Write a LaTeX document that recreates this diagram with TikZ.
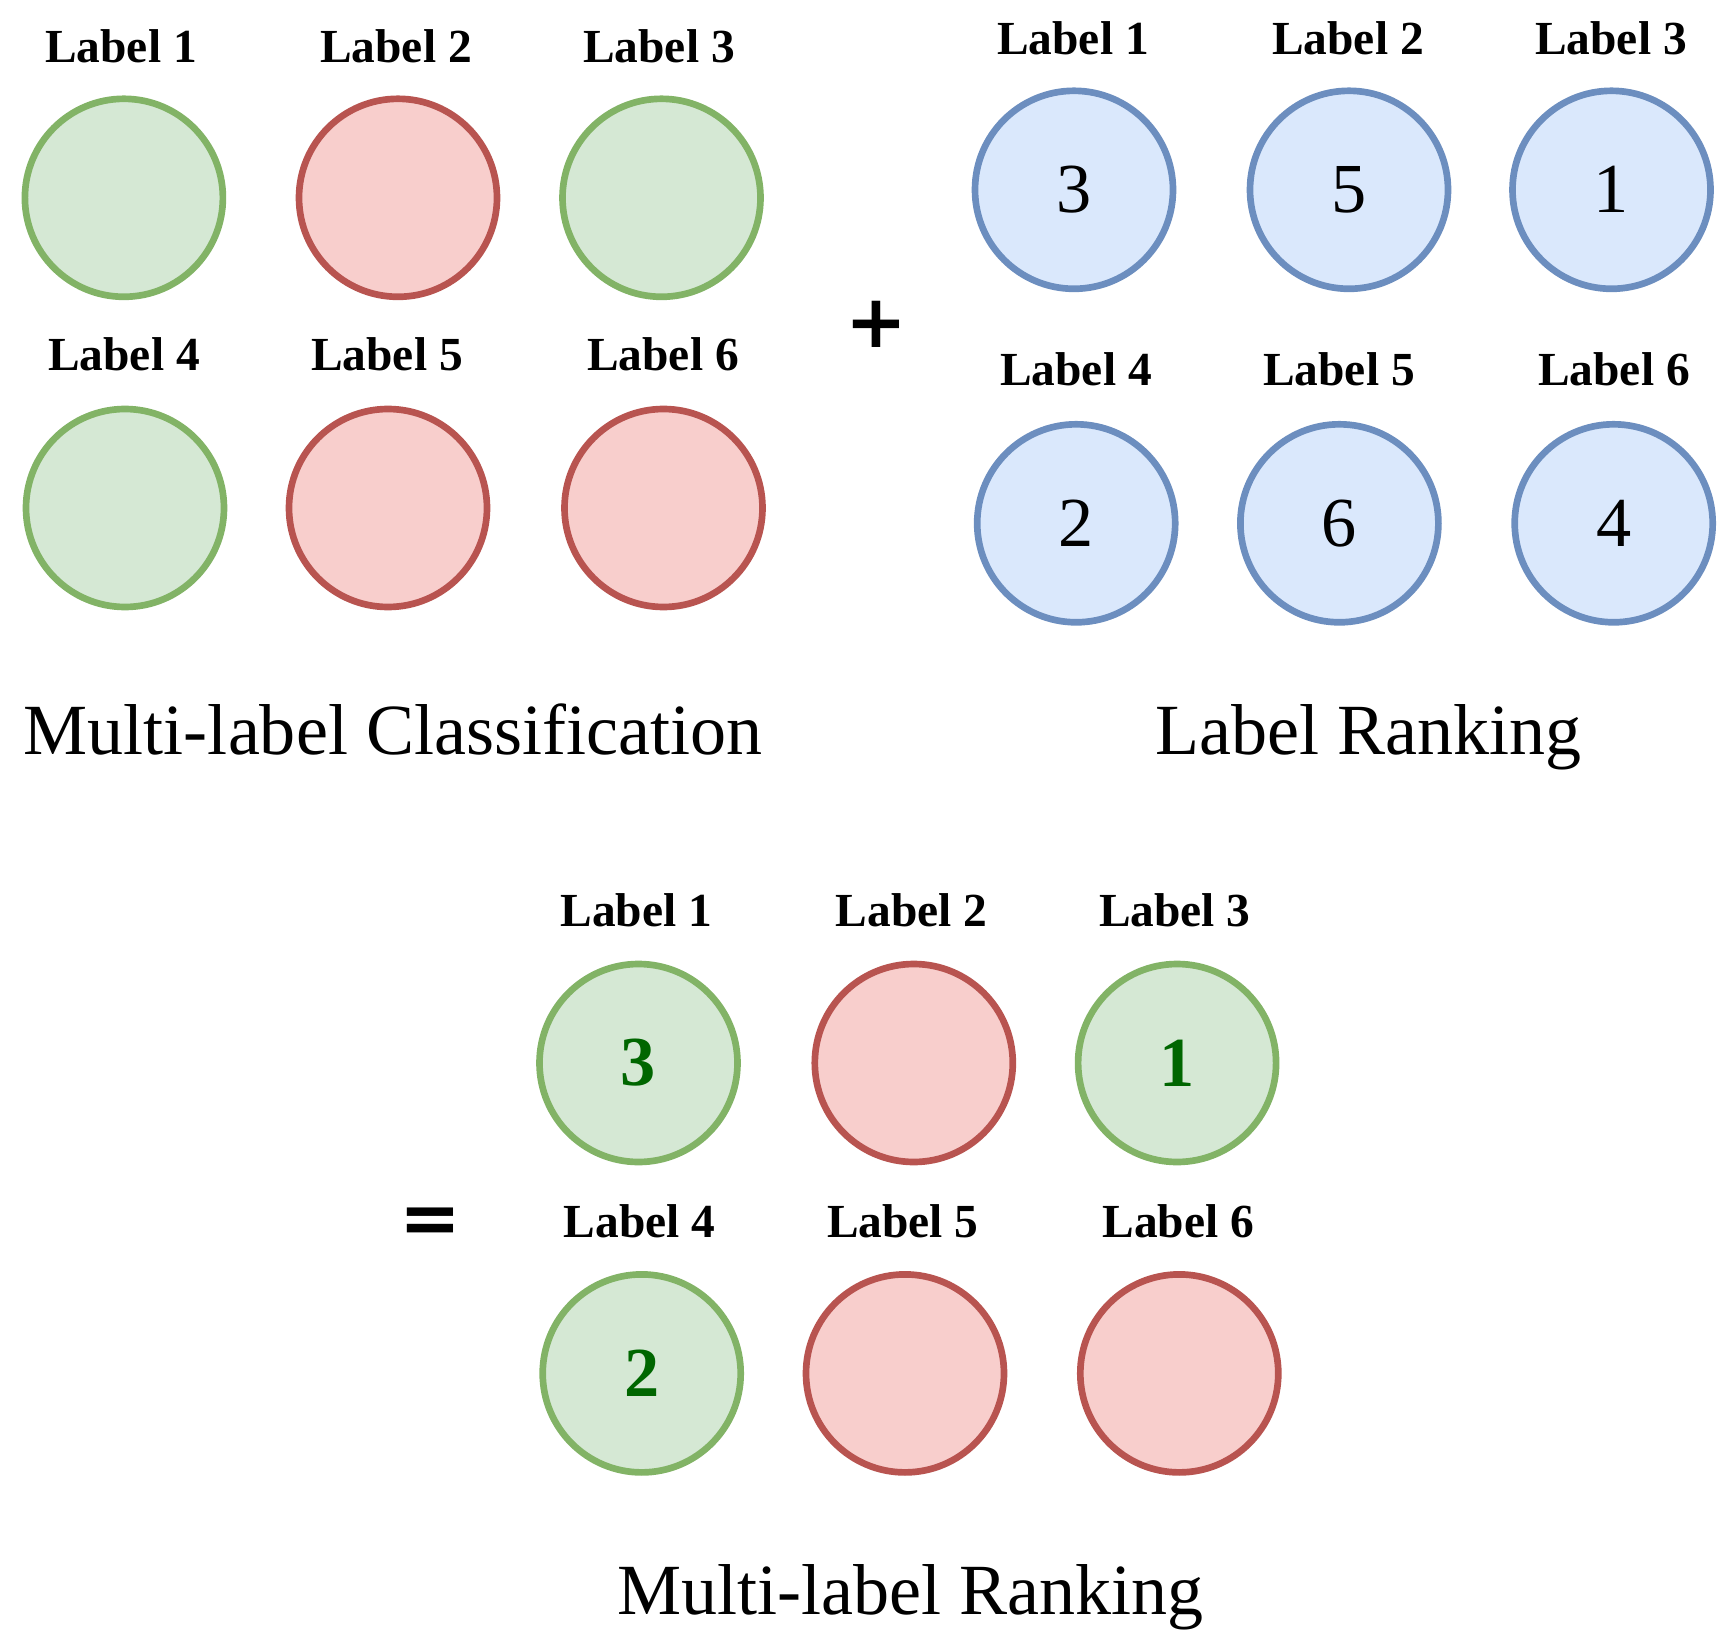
\documentclass[tikz,border=0pt]{standalone}
\usepackage{fontspec}
\setmainfont{Liberation Serif}
\newfontfamily\opfont{DejaVu Sans}
\usetikzlibrary{calc}

\definecolor{relfill}{HTML}{D5E8D4}
\definecolor{relline}{HTML}{82B366}
\definecolor{reltext}{HTML}{006600}
\definecolor{irrfill}{HTML}{F8CECC}
\definecolor{irrline}{HTML}{B85450}
\definecolor{rankfill}{HTML}{DAE8FC}
\definecolor{rankline}{HTML}{6C8EBF}

\begin{document}
\begin{tikzpicture}[
    relevant/.style={circle, draw=relline, fill=relfill, line width=1.9pt,
        minimum size=1.98cm, inner sep=0pt, text=reltext,
        font=\fontsize{20}{20}\selectfont\bfseries},
    irrelevant/.style={circle, draw=irrline, fill=irrfill, line width=1.9pt,
        minimum size=1.98cm, inner sep=0pt},
    ranked/.style={circle, draw=rankline, fill=rankfill, line width=1.9pt,
        minimum size=1.98cm, inner sep=0pt,
        font=\fontsize{20}{20}\selectfont},
    labeltext/.style={font=\fontsize{13.5}{14}\selectfont\bfseries},
    caption/.style={anchor=base, font=\fontsize{20.5}{22}\selectfont},
    operator/.style={inner sep=0pt, font=\opfont\bfseries\fontsize{21}{21}\selectfont}
]
    \useasboundingbox (0, 0) rectangle (17.2, -16.37);

    % Multi-label classification
    \node (mlc_l1) at (1.21, -0.46) [labeltext] {Label 1};
    \node (mlc_l2) at (3.96, -0.46) [labeltext] {Label 2};
    \node (mlc_l3) at (6.59, -0.46) [labeltext] {Label 3};
    \node (mlc_c1) at (1.239, -1.978) [relevant] {};
    \node (mlc_c2) at (3.98, -1.978) [irrelevant] {};
    \node (mlc_c3) at (6.615, -1.978) [relevant] {};

    \node (mlc_l4) at (1.24, -3.54) [labeltext] {Label 4};
    \node (mlc_l5) at (3.87, -3.54) [labeltext] {Label 5};
    \node (mlc_l6) at (6.63, -3.54) [labeltext] {Label 6};
    \node (mlc_c4) at (1.25, -5.08) [relevant] {};
    \node (mlc_c5) at (3.88, -5.08) [irrelevant] {};
    \node (mlc_c6) at (6.635, -5.08) [irrelevant] {};

    \node (mlc_title) at (3.93, -7.547) [caption] {Multi-label Classification};

    \node (plus_sign) at (8.76, -3.24) [operator] {+};

    % Label ranking
    \node (lr_l1) at (10.73, -0.384) [labeltext] {Label 1};
    \node (lr_l2) at (13.48, -0.384) [labeltext] {Label 2};
    \node (lr_l3) at (16.11, -0.384) [labeltext] {Label 3};
    \node (lr_c1) at (10.74, -1.898) [ranked] {3};
    \node (lr_c2) at (13.49, -1.898) [ranked] {5};
    \node (lr_c3) at (16.115, -1.898) [ranked] {1};

    \node (lr_l4) at (10.76, -3.697) [labeltext] {Label 4};
    \node (lr_l5) at (13.39, -3.697) [labeltext] {Label 5};
    \node (lr_l6) at (16.14, -3.697) [labeltext] {Label 6};
    \node (lr_c4) at (10.762, -5.233) [ranked] {2};
    \node (lr_c5) at (13.394, -5.233) [ranked] {6};
    \node (lr_c6) at (16.137, -5.233) [ranked] {4};

    \node (lr_title) at (13.685, -7.547) [caption] {Label Ranking};

    \node (equal_sign) at (4.30, -12.255) [operator] {=};

    % Multi-label ranking
    \node (mlr_l1) at (6.363, -9.105) [labeltext] {Label 1};
    \node (mlr_l2) at (9.116, -9.105) [labeltext] {Label 2};
    \node (mlr_l3) at (11.749, -9.105) [labeltext] {Label 3};
    \node (mlr_c1) at (6.385, -10.63) [relevant] {3};
    \node (mlr_c2) at (9.138, -10.63) [irrelevant] {};
    \node (mlr_c3) at (11.771, -10.63) [relevant] {1};

    \node (mlr_l4) at (6.396, -12.21) [labeltext] {Label 4};
    \node (mlr_l5) at (9.028, -12.21) [labeltext] {Label 5};
    \node (mlr_l6) at (11.782, -12.21) [labeltext] {Label 6};
    \node (mlr_c4) at (6.417, -13.734) [relevant] {2};
    \node (mlr_c5) at (9.05, -13.734) [irrelevant] {};
    \node (mlr_c6) at (11.793, -13.734) [irrelevant] {};

    \node (mlr_title) at (9.105, -16.148) [caption] {Multi-label Ranking};
\end{tikzpicture}
\end{document}
